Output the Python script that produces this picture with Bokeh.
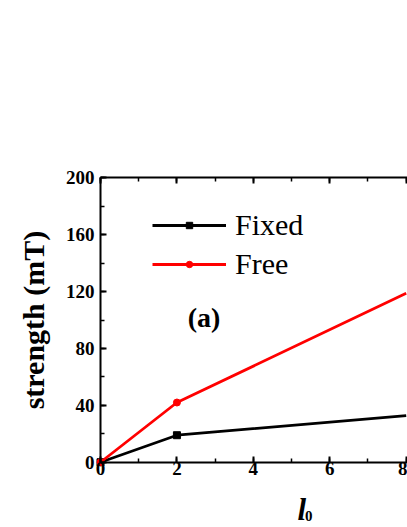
import math
from bokeh.plotting import figure
from bokeh.models import (LinearAxis, Range1d, Label, Legend, LegendItem,
                          SingleIntervalTicker)
from bokeh.embed import file_html
from bokeh.resources import INLINE

# ---- data ----
x_vals = [0, 2, 8]
fixed_vals = [0, 19, 32.8]
free_vals = [0, 42, 118.8]
n_marked = 2          # points whose markers are visible in the reference
x_ticks = [0, 2, 4, 6, 8]
series_labels = ["Fixed", "Free"]
y_label = "strength (mT)"
x_label_main = "l"
x_label_sub = "0"
panel_label = "(a)"

FONT = "Liberation Serif"

p = figure(width=407, height=527, output_backend="svg", toolbar_location=None,
           x_range=Range1d(-2.617, 8.034), y_range=Range1d(-45.9, 324.7),
           min_border_left=0, min_border_right=0,
           min_border_top=0, min_border_bottom=0)
p.grid.visible = False
p.outline_line_color = None
p.background_fill_color = "white"
p.border_fill_color = "white"

xt = SingleIntervalTicker(interval=2, num_minor_ticks=2)
yt = SingleIntervalTicker(interval=40, num_minor_ticks=2)
p.xaxis.ticker = xt
p.yaxis.ticker = yt


def style_axis(ax, standoff):
    ax.axis_line_width = 2
    ax.axis_line_color = "black"
    ax.major_tick_in = 6
    ax.major_tick_out = 0
    ax.minor_tick_in = 4
    ax.minor_tick_out = 0
    ax.major_tick_line_width = 2
    ax.minor_tick_line_width = 1.5
    ax.major_tick_line_color = "black"
    ax.minor_tick_line_color = "black"
    ax.major_label_text_font = FONT
    ax.major_label_text_font_style = "bold"
    ax.major_label_text_font_size = "19px"
    ax.major_label_text_color = "black"
    ax.major_label_standoff = standoff


xa = p.xaxis[0]
ya = p.yaxis[0]
style_axis(xa, 0)
style_axis(ya, 6)
xa.fixed_location = 0
xa.bounds = (0, 10)
ya.fixed_location = 0
ya.bounds = (0, 200)

top = LinearAxis(ticker=xt)
style_axis(top, 0)
top.fixed_location = 200
top.bounds = (0, 10)
top.major_label_overrides = {t: "" for t in x_ticks}
p.add_layout(top, "above")

r1 = p.line(x_vals, fixed_vals, line_color="black", line_width=2.8)
s1 = p.scatter(x_vals[:n_marked], fixed_vals[:n_marked], marker="square",
               size=7, color="black")
r2 = p.line(x_vals, free_vals, line_color="red", line_width=2.8)
s2 = p.scatter(x_vals[:n_marked], free_vals[:n_marked], marker="circle",
               size=7, color="red")

legend = Legend(items=[LegendItem(label=series_labels[0], renderers=[r1, s1]),
                       LegendItem(label=series_labels[1], renderers=[r2, s2])],
                location=(152, 246), padding=0, margin=0, spacing=5,
                glyph_width=74, glyph_height=16, label_height=34,
                label_standoff=9, border_line_color=None,
                background_fill_alpha=0, label_text_color="black",
                label_text_font=FONT, label_text_font_size="30px")
p.add_layout(legend)

p.add_layout(Label(x=-1.75, y=100, text=y_label, text_font=FONT,
                   text_font_style="bold", text_font_size="30px",
                   text_color="black", angle=math.pi / 2,
                   text_align="center", text_baseline="alphabetic"))
p.add_layout(Label(x=5.27, y=-33, text=x_label_main, text_font=FONT,
                   text_font_style="bold italic", text_font_size="31px",
                   text_color="black",
                   text_align="center", text_baseline="alphabetic"))
p.add_layout(Label(x=5.45, y=-37.5, text=x_label_sub, text_font=FONT,
                   text_font_style="bold", text_font_size="15px",
                   text_color="black",
                   text_align="center", text_baseline="alphabetic"))
p.add_layout(Label(x=2.28, y=102, text=panel_label, text_font=FONT,
                   text_font_style="bold", text_font_size="28px",
                   text_color="black",
                   text_align="left", text_baseline="alphabetic"))

open("out.html", "w").write(file_html(p, INLINE))
